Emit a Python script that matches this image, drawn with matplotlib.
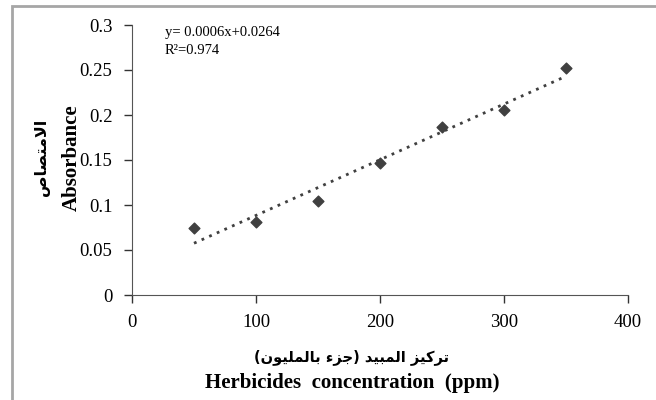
import numpy as np
import matplotlib
matplotlib.use("Agg")
import matplotlib.pyplot as plt
from matplotlib.patches import Rectangle

# data
conc = [50, 100, 150, 200, 250, 300, 350]
absorb = [0.074, 0.081, 0.105, 0.147, 0.187, 0.206, 0.252]
xticks = [0, 100, 200, 300, 400]
yticks = [0, 0.05, 0.1, 0.15, 0.2, 0.25, 0.3]
ytick_labels = ["0", "0.05", "0.1", "0.15", "0.2", "0.25", "0.3"]
eq_text = "y= 0.0006x+0.0264\nR\u00b2=0.974"

# arabic labels, pre-shaped (presentation forms) in visual order
ar_y = "\uFEB9\uFE8E\uFEBC\uFE98\uFEE3\uFEFB\uFE8D"
w1 = "\uFE97\uFEAE\uFEDB\uFEF4\uFEB0"[::-1]
w2 = "\uFE8D\uFEDF\uFEE4\uFE92\uFEF4\uFEAA"[::-1]
w3 = "\uFE9F\uFEB0\uFE80"[::-1]
w4 = "\uFE91\uFE8E\uFEDF\uFEE4\uFEE0\uFEF4\uFEEE\uFEE5"[::-1]
ar_x = "(" + w4 + " " + w3 + ") " + w2 + " " + w1

plt.rcParams['font.family'] = ['Liberation Serif', 'DejaVu Sans']

fig = plt.figure(figsize=(6.56, 4), dpi=100)
ax = fig.add_axes([132/656, 1-295/400, (628-132)/656, (295-25)/400])

ax.scatter(conc, absorb, marker="D", s=30, color="#404040", zorder=3)

# linear trendline
k, b = np.polyfit(conc, absorb, 1)
xs = np.array([conc[0], conc[-1]])
ax.plot(xs, k*xs + b, color="#404040", linestyle=(0, (1, 2)), linewidth=2)

ax.set_xlim(0, 400)
ax.set_ylim(0, 0.3)
ax.set_xticks(xticks)
ax.set_yticks(yticks)
ax.set_yticklabels(ytick_labels)
ax.tick_params(direction="out", length=6, width=1, labelsize=13.5, color="#333333",
               labelcolor="black", pad=8)
ax.spines["top"].set_visible(False)
ax.spines["right"].set_visible(False)
ax.spines["left"].set_color("#555555")
ax.spines["bottom"].set_color("#555555")

fig.text(165/656, 1-26/400, eq_text, fontsize=10.5, va="top", linespacing=1.45)

# axis titles
fig.text(72/656, 1-158/400, "Absorbance", rotation=90, ha="center", va="center",
         fontsize=15, fontweight="bold")
fig.text(42/656, 1-157/400, ar_y, rotation=90, ha="center", va="center",
         fontsize=11.5, fontweight="bold", family="DejaVu Sans")
fig.text(352/656, 1-357/400, ar_x, ha="center", va="center",
         fontsize=10.5, fontweight="bold", family="DejaVu Sans")
fig.text(352/656, 1-383/400, "Herbicides  concentration  (ppm)", ha="center", va="center",
         fontsize=15, fontweight="bold")

# outer chart border (cropped at right and bottom)
fig.patches.append(Rectangle((12/656, -0.1), 1.2, 1-6/400+0.1, transform=fig.transFigure,
                             fill=False, edgecolor="#a6a6a6", linewidth=2))

fig.savefig("out.png", dpi=100)
